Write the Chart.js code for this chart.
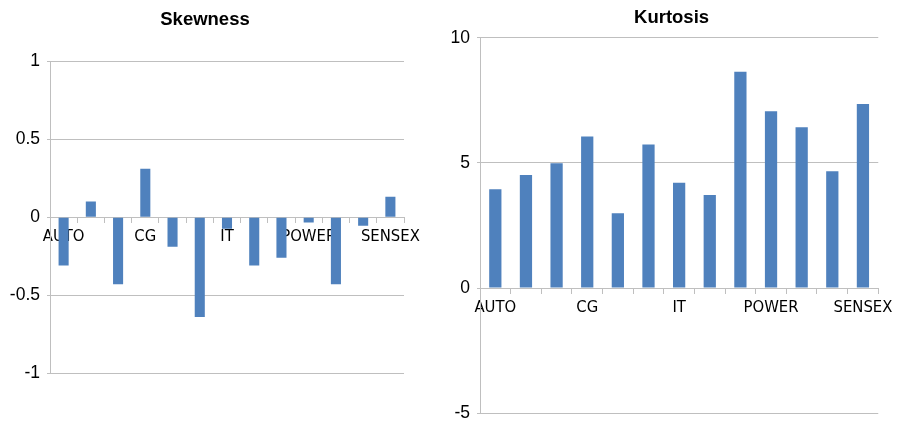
<!DOCTYPE html>
<html>
<head>
<meta charset="utf-8">
<script src="https://cdn.jsdelivr.net/npm/chart.js@4/dist/chart.umd.min.js"></script>
<style>
  html, body { margin: 0; padding: 0; background: #fff; overflow: hidden; }
  #wrap { position: relative; width: 898px; height: 427px; overflow: hidden; }
  canvas { position: absolute; top: 0; }
  #skew { left: 0px; }
  #kurt { left: 440px; }
</style>
</head>
<body>
<div id="wrap">
  <canvas id="skew" width="440" height="427"></canvas>
  <canvas id="kurt" width="458" height="427"></canvas>
</div>
<script>
// BSE sectoral indices
const sectors = ['AUTO', 'BANKEX', 'CD', 'CG', 'FMCG', 'HC', 'IT', 'METAL', 'OIL&GAS', 'POWER', 'PSU', 'REALTY', 'SENSEX'];
const skewness = [-0.31, 0.10, -0.43, 0.31, -0.19, -0.64, -0.075, -0.31, -0.26, -0.035, -0.43, -0.055, 0.13];
const kurtosis = [3.95, 4.52, 4.99, 6.05, 2.99, 5.73, 4.21, 3.72, 8.64, 7.06, 6.42, 4.67, 7.35];
const skewTicks = { min: -1, max: 1, step: 0.5 };
const kurtTicks = { min: -5, max: 10, step: 5 };

const BAR = '#4F81BD';
const GRID = '#BFBFBF';
const TEXT = '#000000';

// Nudges the title block sideways after layout so it sits over the desired spot.
const titleShift = {
  id: 'titleShift',
  afterLayout(chart, args, options) {
    const block = chart.titleBlock;
    if (block && options.dx) {
      block.left += options.dx;
      block.right += options.dx;
    }
  }
};

function makeChart(id, title, values, ticks, opts) {
  return new Chart(document.getElementById(id), {
    type: 'bar',
    data: {
      labels: sectors,
      datasets: [{
        data: values,
        backgroundColor: BAR,
        borderWidth: 0,
        barPercentage: opts.barPct,
        categoryPercentage: 1
      }]
    },
    plugins: [titleShift],
    options: {
      responsive: false,
      animation: false,
      devicePixelRatio: 1,
      layout: { padding: { left: 0, right: opts.padRight, top: 0, bottom: opts.padBottom } },
      plugins: {
        legend: { display: false },
        tooltip: { enabled: false },
        titleShift: { dx: opts.titleDx },
        title: {
          display: true,
          text: title,
          color: TEXT,
          font: { family: 'Liberation Sans', size: 18.5, weight: 'bold', lineHeight: 1.2 },
          padding: { top: opts.titleTop, bottom: opts.titleBottom }
        }
      },
      scales: {
        x: {
          position: { y: 0 },
          z: 1,
          grid: { display: true, drawOnChartArea: false, drawTicks: true, tickLength: 5, color: GRID, offset: true },
          border: { display: true, color: GRID, width: 1 },
          ticks: {
            autoSkip: false,
            maxRotation: 0,
            minRotation: 0,
            padding: 5,
            color: TEXT,
            font: { family: "'DejaVu Sans Condensed', 'Liberation Sans'", size: 16.5 },
            callback: function (v, i) { return i % 3 === 0 ? sectors[i] : ''; }
          }
        },
        y: {
          min: ticks.min,
          max: ticks.max,
          grid: { color: GRID, drawTicks: true, tickLength: 3 },
          border: { display: true, color: GRID, width: 1 },
          ticks: {
            stepSize: ticks.step,
            padding: 7,
            color: TEXT,
            font: { family: 'Liberation Sans', size: 17.5 },
            callback: function (v) { return String(+v.toFixed(2)); }
          },
          afterFit: function (scale) {
            scale.width = opts.axisWidth;
            scale.paddingTop = 0;
            scale.paddingBottom = 0;
          }
        }
      }
    }
  });
}

makeChart('skew', 'Skewness', skewness, skewTicks, {
  barPct: 0.37, padRight: 36, padBottom: 53.7, titleTop: 9, titleBottom: 29.8, axisWidth: 50, titleDx: 3
});
makeChart('kurt', 'Kurtosis', kurtosis, kurtTicks, {
  barPct: 0.40, padRight: 16.3, padBottom: 13.7, titleTop: 7, titleBottom: 8.5, axisWidth: 40, titleDx: 10.7
});
</script>
</body>
</html>
